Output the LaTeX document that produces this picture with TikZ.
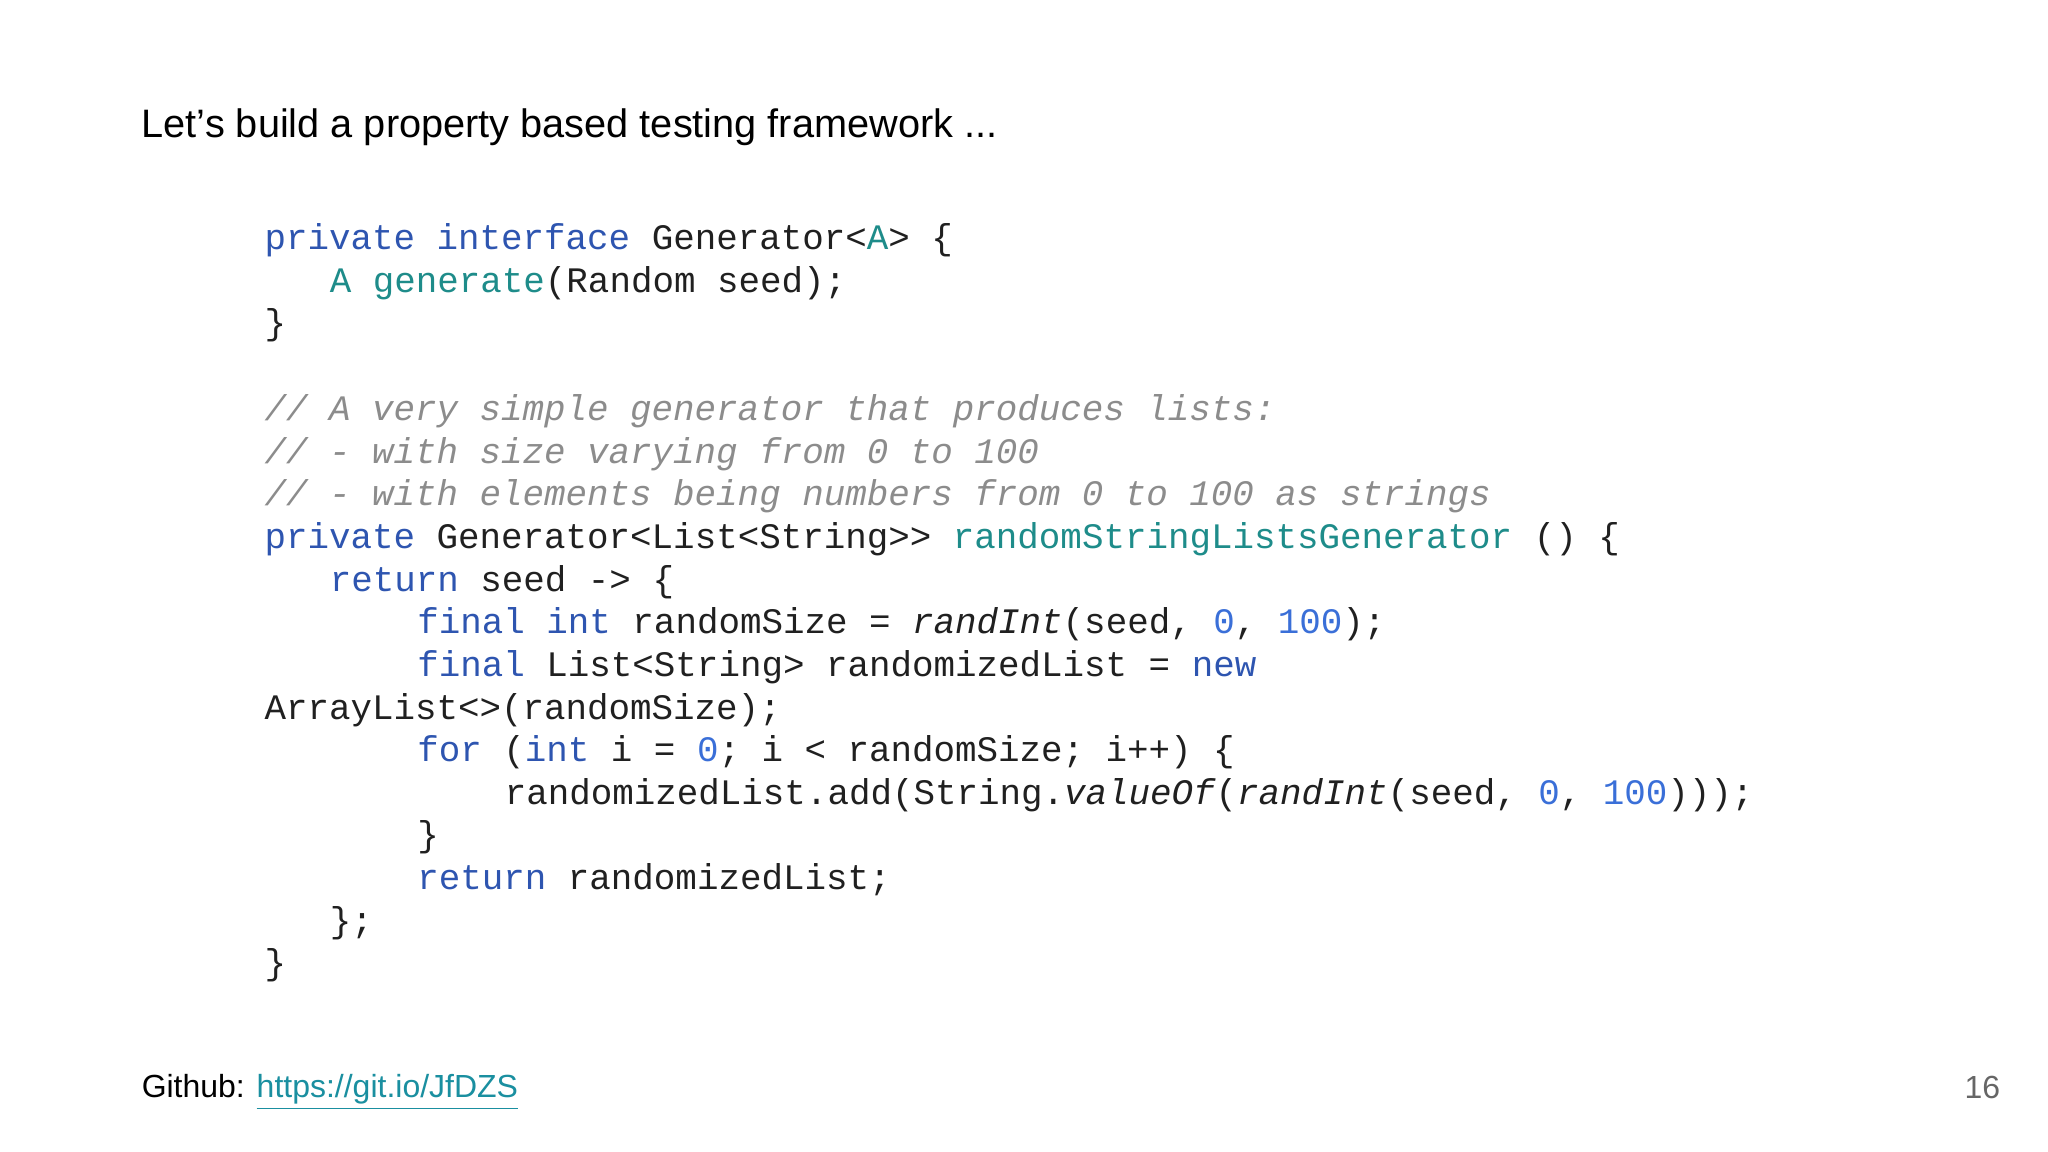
\documentclass[tikz,border=0pt]{standalone}
\usepackage{fontspec}
\setmainfont{Liberation Sans}
\setmonofont{Liberation Mono}
\definecolor{kw}{HTML}{2E55B0}
\definecolor{tl}{HTML}{1E8C8A}
\definecolor{nm}{HTML}{3A6FD8}
\definecolor{cm}{HTML}{8C8C8C}
\definecolor{tx}{HTML}{202020}
\definecolor{lk}{HTML}{1A8FA0}
\newcommand{\K}[1]{\textcolor{kw}{#1}}
\newcommand{\T}[1]{\textcolor{tl}{#1}}
\newcommand{\N}[1]{\textcolor{nm}{#1}}
\tikzset{
  code/.style={anchor=base west,inner sep=0pt,text=tx,font=\ttfamily\fontsize{10.2}{12}\selectfont},
  cmt/.style={code,text=cm,font=\ttfamily\itshape\fontsize{10.2}{12}\selectfont},
  sans/.style={anchor=base west,inner sep=0pt,text=black,font=\fontsize{11.3}{13}\selectfont},
  foot/.style={anchor=base west,inner sep=0pt,text=black,font=\fontsize{9.1}{11}\selectfont}
}
\begin{document}
\begin{tikzpicture}[x=0.013061cm,y=-0.013061cm]
\useasboundingbox[fill=white] (0,0) rectangle (1568,882);
\node[sans] (title) at (108,105) {Let’s build a property based testing framework ...};
\node[code] (l1) at (202,191) {\K{private interface} Generator<\T{A}> \{};
\node[code] (l2) at (252,224) {\T{A generate}(Random seed);};
\node[code] (l3) at (202,256) {\}};
\node[cmt] (l4) at (202,322) {// A very simple generator that produces lists:};
\node[cmt] (l5) at (202,355) {// - with size varying from 0 to 100};
\node[cmt] (l6) at (202,387) {// - with elements being numbers from 0 to 100 as strings};
\node[code] (l7) at (202,420) {\K{private} Generator<List<String>{}> \T{randomStringListsGenerator} () \{};
\node[code] (l8) at (252,453) {\K{return} seed -> \{};
\node[code] (l9) at (319,485) {\K{final int} randomSize = \textit{randInt}(seed, \N{0}, \N{100});};
\node[code] (l10) at (319,518) {\K{final} List<String> randomizedList = \K{new}};
\node[code] (l11) at (202,551) {ArrayList<>(randomSize);};
\node[code] (l12) at (319,583) {\K{for} (\K{int} i = \N{0}; i < randomSize; i++) \{};
\node[code] (l13) at (386,616) {randomizedList.add(String.\textit{valueOf}(\textit{randInt}(seed, \N{0}, \N{100})));};
\node[code] (l14) at (319,648) {\}};
\node[code] (l15) at (319,681) {\K{return} randomizedList;};
\node[code] (l16) at (252,714) {\};};
\node[code] (l17) at (202,746) {\}};
\node[foot] (gh) at (108,840) {Github: \textcolor{lk}{\underline{https://git.io/JfDZS}}};
\node[foot,anchor=base east,text=black!60] (pg) at (1532,841) {16};
\end{tikzpicture}
\end{document}
